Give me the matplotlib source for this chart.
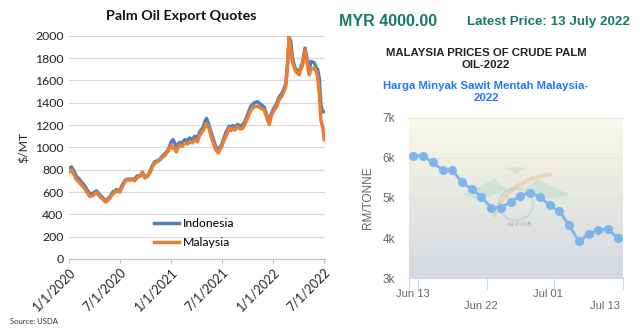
import numpy as np
import pandas as pd
import matplotlib
matplotlib.use('Agg')
import matplotlib.pyplot as plt
from matplotlib.patches import Arc, Ellipse, Polygon

# Export quotes, USD per metric tonne
dates_2020 = ['2020-01-01', '2020-01-09', '2020-01-18', '2020-01-27', '2020-02-05', '2020-02-14',
              '2020-02-23', '2020-03-03', '2020-03-15', '2020-03-27', '2020-04-08', '2020-04-20',
              '2020-05-02', '2020-05-11', '2020-05-25', '2020-06-06', '2020-06-18', '2020-07-01',
              '2020-07-10', '2020-07-18', '2020-07-27', '2020-08-05', '2020-08-14', '2020-08-23',
              '2020-09-01', '2020-09-10', '2020-09-20', '2020-09-28', '2020-10-07', '2020-10-16',
              '2020-10-25', '2020-11-02', '2020-11-11', '2020-11-20', '2020-11-29', '2020-12-08',
              '2020-12-20']
malaysia_2020 = [780, 800, 760, 710, 690, 665, 640, 605, 560, 570, 595, 560, 530, 510, 540, 585, 610, 600,
                 650, 690, 710, 705, 720, 700, 730, 745, 780, 725, 745, 770, 820, 860, 870, 885, 910, 925, 965]
indonesia_2020 = [810, 825, 790, 740, 720, 690, 665, 630, 580, 590, 610, 575, 545, 520, 555, 600, 620, 615,
                  665, 700, 715, 715, 710, 715, 745, 740, 765, 740, 740, 780, 835, 870, 880, 890, 920, 940, 975]

dates_2021 = ['2021-01-01', '2021-01-07', '2021-01-13', '2021-01-19', '2021-01-25', '2021-01-31',
              '2021-02-09', '2021-02-18', '2021-02-27', '2021-03-08', '2021-03-17', '2021-03-26',
              '2021-04-04', '2021-04-13', '2021-04-25', '2021-05-01', '2021-05-07', '2021-05-16',
              '2021-05-28', '2021-06-09', '2021-06-18', '2021-07-01', '2021-07-08', '2021-07-15',
              '2021-07-27', '2021-08-02', '2021-08-08', '2021-08-17', '2021-08-26', '2021-09-04',
              '2021-09-13', '2021-09-22', '2021-10-01', '2021-10-13', '2021-10-25', '2021-11-06',
              '2021-11-18', '2021-11-30', '2021-12-06', '2021-12-12', '2021-12-18', '2021-12-25']
malaysia_2021 = [1020, 990, 1000, 960, 1000, 1020, 1010, 1040, 1030, 1050, 1040, 1070, 1050, 1110,
                 1150, 1180, 1215, 1170, 1065, 980, 950, 1010, 1060, 1100, 1170, 1150, 1170, 1155,
                 1185, 1165, 1170, 1210, 1260, 1335, 1365, 1370, 1350, 1335, 1290, 1245, 1205, 1280]
indonesia_2021 = [1050, 1070, 1040, 1000, 1030, 1045, 1040, 1070, 1060, 1085, 1070, 1100, 1080, 1140,
                  1180, 1230, 1260, 1200, 1100, 1010, 970, 1030, 1080, 1130, 1190, 1180, 1195, 1185,
                  1205, 1195, 1200, 1235, 1290, 1370, 1400, 1410, 1385, 1360, 1310, 1270, 1230, 1300]

dates_2022 = ['2022-01-01', '2022-01-13', '2022-01-22', '2022-02-03', '2022-02-15', '2022-02-21',
              '2022-02-27', '2022-03-05', '2022-03-11', '2022-03-17', '2022-03-23', '2022-04-04',
              '2022-04-10', '2022-04-16', '2022-04-25', '2022-05-04', '2022-05-10', '2022-05-16',
              '2022-05-28', '2022-06-03', '2022-06-09', '2022-06-15', '2022-06-21', '2022-06-27',
              '2022-07-03']
malaysia_2022 = [1320, 1365, 1425, 1470, 1545, 1720, 1990, 1870, 1770, 1720, 1680, 1650, 1700, 1730,
                 1870, 1740, 1650, 1700, 1710, 1690, 1635, 1490, 1240, 1190, 1070]
indonesia_2022 = [1340, 1390, 1450, 1490, 1570, 1740, 1990, 1950, 1800, 1740, 1700, 1680, 1720, 1760,
                  1890, 1770, 1700, 1770, 1760, 1720, 1700, 1620, 1380, 1320, 1320]

export_dates = pd.to_datetime(dates_2020 + dates_2021 + dates_2022)
malaysia = malaysia_2020 + malaysia_2021 + malaysia_2022
indonesia = indonesia_2020 + indonesia_2021 + indonesia_2022

tick_dates = pd.to_datetime(['2020-01-01', '2020-07-01', '2021-01-01', '2021-07-01', '2022-01-01', '2022-07-01'])
tick_labels = ['1/1/2020', '7/1/2020', '1/1/2021', '7/1/2021', '1/1/2022', '7/1/2022']

# MPOB crude palm oil daily price, RM per tonne
cpo_prices = [6060, 6050, 5890, 5700, 5690, 5390, 5220, 5030, 4760, 4760, 4900,
              5060, 5130, 5030, 4820, 4670, 4320, 3920, 4090, 4200, 4220, 4000]
cpo_labels = ['Jun 13', '\nJun 22', 'Jul 01', '\nJul 13']
cpo_label_pos = [-0.03, 6.99, 13.87, 19.73]
cpo_tick_pos = [-0.445, 0.445, 7.54, 14.46, 21.51]

fig = plt.figure(figsize=(6.4, 3.35), dpi=100)
fig.patch.set_facecolor('white')

# ---- left: export quotes ----
ax = fig.add_axes([0.108, 0.227, 0.400, 0.666])
ax.plot(export_dates, indonesia, color='#4f81bd', lw=2.5, label='Indonesia', zorder=3)
ax.plot(export_dates, malaysia, color='#ed7d31', lw=2.5, label='Malaysia', zorder=4)
ax.set_ylim(0, 2000)
ax.set_yticks(range(0, 2001, 200))
ax.set_xlim(pd.Timestamp('2020-01-01'), pd.Timestamp('2022-07-06'))
ax.set_xticks(tick_dates)
ax.set_xticklabels(tick_labels, rotation=45, ha='right', rotation_mode='anchor',
                   family='Lato', fontsize=9, color='#222222')
for lab in ax.get_yticklabels():
    lab.set_family('Lato')
ax.tick_params(axis='y', length=0, labelsize=8.8, labelcolor='#222222', pad=4)
ax.tick_params(axis='x', length=3, color='#bfbfbf', pad=2)
ax.grid(axis='y', color='#d9d9d9', lw=0.8)
ax.set_axisbelow(True)
for side in ['left', 'right', 'top']:
    ax.spines[side].set_visible(False)
ax.spines['bottom'].set_color('#bfbfbf')
ax.set_ylabel('$/MT', family='Lato', fontsize=8.8, color='#222222', labelpad=4)
ax.legend(loc='lower left', bbox_to_anchor=(0.29, 0.0), frameon=False,
          prop={'family': 'Lato', 'size': 8.8}, handlelength=2.0, labelspacing=0.65,
          handletextpad=0.3)
fig.text(181 / 640, 1 - 16 / 335, 'Palm Oil Export Quotes', ha='center', va='center',
         family='Lato', fontsize=10.3, fontweight='bold', color='#111111')
fig.text(10 / 640, 1 - 322 / 335, 'Source: USDA', ha='left', va='center',
         family='Lato', fontsize=5.5, color='#333333')

# ---- right: MPOB crude palm oil ----
fig.text(339 / 640, 1 - 22 / 335, 'MYR 4000.00', ha='left', va='center',
         family='Liberation Sans', fontsize=11.5, fontweight='bold', color='#167a6b')
fig.text(467 / 640, 1 - 22 / 335, 'Latest Price: 13 July 2022', ha='left', va='center',
         family='Liberation Sans', fontsize=9.6, fontweight='bold', color='#167a6b')
fig.text(486 / 640, 1 - 59 / 335, 'MALAYSIA PRICES OF CRUDE PALM\nOIL-2022', ha='center', va='center',
         family='Liberation Sans', fontsize=8.2, fontweight='bold', color='#222222', linespacing=1.2)
fig.text(486 / 640, 1 - 92 / 335, 'Harga Minyak Sawit Mentah Malaysia-\n2022', ha='center', va='center',
         family='Liberation Sans', fontsize=8.2, fontweight='bold', color='#2277ff', linespacing=1.2)

bx = fig.add_axes([0.639, 0.170, 0.334, 0.478])
xlo, xhi = cpo_tick_pos[0], cpo_tick_pos[-1]
bx.set_xlim(xlo, xhi)
bx.set_ylim(3000, 7000)

# plot background: pale yellow at the top fading to grey-blue
top = np.array([250, 250, 234]) / 255
mid = np.array([240, 240, 228]) / 255
bot = np.array([213, 216, 223]) / 255
t = np.linspace(0, 1, 200)[:, None]
grad = np.where(t < 0.25, top + (mid - top) * (t / 0.25), mid + (bot - mid) * ((t - 0.25) / 0.75))
bx.imshow(grad[:, None, :], extent=[xlo, xhi, 3000, 7000], aspect='auto', zorder=0, origin='upper')

# faint MPOB watermark
wm = bx.transAxes
bx.add_patch(Polygon([[0.25, 0.52], [0.40, 0.62], [0.46, 0.55], [0.33, 0.49]], closed=True,
                     transform=wm, color='#9fd4c4', alpha=0.35, lw=0, zorder=1))
bx.add_patch(Polygon([[0.75, 0.52], [0.60, 0.62], [0.54, 0.55], [0.67, 0.49]], closed=True,
                     transform=wm, color='#9fd4c4', alpha=0.35, lw=0, zorder=1))
bx.add_patch(Polygon([[0.45, 0.69], [0.55, 0.69], [0.50, 0.65]], closed=True,
                     transform=wm, color='#9fd4c4', alpha=0.35, lw=0, zorder=1))
bx.add_patch(Arc((0.70, 0.30), 0.62, 0.70, theta1=95, theta2=165, transform=wm,
                 color='#e8c9a0', lw=3, alpha=0.6, zorder=1))
bx.add_patch(Ellipse((0.50, 0.46), 0.16, 0.20, transform=wm, fill=False,
                     ec='#9fd4c4', lw=1.5, alpha=0.5, zorder=1))
bx.text(0.52, 0.335, 'M P O B', transform=wm, ha='center', va='center',
        family='Liberation Sans', fontsize=4.5, color='#999999', alpha=0.8, zorder=1)

bx.grid(axis='y', color='#e4e4dc', lw=0.8, zorder=1)
bx.plot(range(len(cpo_prices)), cpo_prices, color='#7cb5ec', lw=2, marker='o',
        markersize=5.5, zorder=3)

bx.set_yticks([3000, 4000, 5000, 6000, 7000])
bx.set_yticklabels(['3k', '4k', '5k', '6k', '7k'])
bx.set_xticks(cpo_label_pos)
bx.set_xticklabels(cpo_labels)
bx.set_xticks(cpo_tick_pos, minor=True)
bx.tick_params(axis='y', length=0, pad=10, labelsize=8.5, labelcolor='#666666')
bx.tick_params(axis='x', which='major', length=0, pad=8, labelsize=8, labelcolor='#666666')
bx.tick_params(axis='x', which='minor', length=8, width=0.8, color='#ccd6eb')
for lab in bx.get_xticklabels() + bx.get_yticklabels():
    lab.set_family('Liberation Sans')
for side in ['left', 'right']:
    bx.spines[side].set_visible(False)
bx.spines['top'].set_color('#e6e6ee')
bx.spines['bottom'].set_color('#ccd6eb')
bx.set_ylabel('RM/TONNE', family='Liberation Sans', fontsize=8.5, color='#666666', labelpad=6)

fig.savefig('out.png', dpi=100)
